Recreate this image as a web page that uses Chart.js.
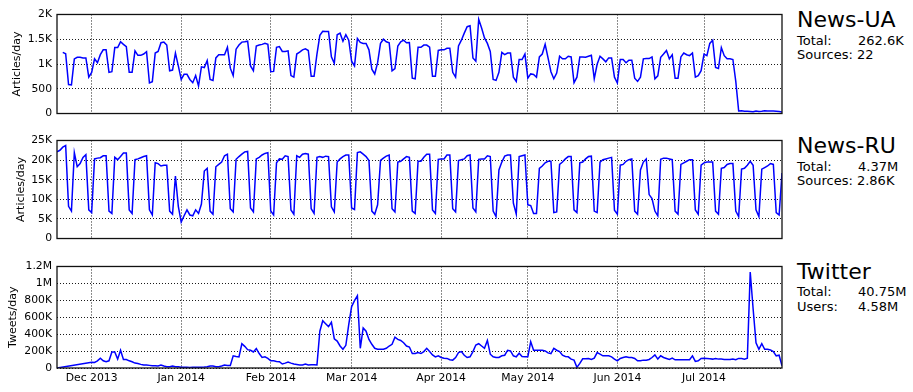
<!DOCTYPE html>
<html><head><meta charset="utf-8">
<script src="https://cdn.jsdelivr.net/npm/chart.js@4.4.1/dist/chart.umd.min.js"></script>
<style>
html,body{margin:0;padding:0;background:#fff;}
#wrap{position:relative;width:913px;height:392px;overflow:hidden;font-family:"DejaVu Sans",sans-serif;color:#000;background:#fff}
canvas{position:absolute;left:0}
.t{position:absolute;white-space:pre;}
.title{font-size:22px;line-height:22px;}
.info{font-size:13px;line-height:13px;}
</style></head><body>
<div id="wrap">
<canvas id="c0" width="790" height="122" style="top:3px"></canvas>
<canvas id="c1" width="790" height="121" style="top:129px"></canvas>
<canvas id="c2" width="790" height="137" style="top:255px"></canvas>

<div class="t title" style="left:797px;top:8.7px">News-UA</div>
<div class="t info" style="left:797px;top:34px">Total:</div>
<div class="t info" style="left:858px;top:34px">262.6K</div>
<div class="t info" style="left:797px;top:48.3px">Sources: 22</div>

<div class="t title" style="left:797px;top:134.7px">News-RU</div>
<div class="t info" style="left:797px;top:159.5px">Total:</div>
<div class="t info" style="left:858px;top:159.5px">4.37M</div>
<div class="t info" style="left:797px;top:174px">Sources: 2.86K</div>

<div class="t title" style="left:797px;top:260.5px">Twitter</div>
<div class="t info" style="left:797px;top:285px">Total:</div>
<div class="t info" style="left:858px;top:285px">40.75M</div>
<div class="t info" style="left:797px;top:299.7px">Users:</div>
<div class="t info" style="left:858px;top:299.7px">4.58M</div>
</div>
<script>
// Day 0 = 2013-11-19; one value per day
const lastDay = 251;
const monthTickDays = [12, 43, 74, 102, 133, 163, 194, 224];
const monthTickLabels = ['Dec 2013','Jan 2014','Feb 2014','Mar 2014','Apr 2014','May 2014','Jun 2014','Jul 2014'];

const uaTicks = [0, 500, 1000, 1500, 2000];
const uaTickLabels = ['0', '500', '1K', '1.5K', '2K'];
const ruTicks = [0, 5000, 10000, 15000, 20000, 25000];
const ruTickLabels = ['0', '5K', '10K', '15K', '20K', '25K'];
const twTicks = [0, 200000, 400000, 600000, 800000, 1000000, 1200000];
const twTickLabels = ['0', '200K', '400K', '600K', '800K', '1M', '1.2M'];

const newsUA = [
 null, null, 1234, 1208, 584, 578, 1104, 1136, 1136, 1123,
 1123, 734, 831, 1104, 1026, 1188, 1286, 1286, 831, 844,
 1331, 1331, 1448, 1396, 1351, 831, 831, 1266, 1175, 1175,
 1201, 1247, 617, 643, 1221, 1253, 1429, 1442, 1383, 864,
 877, 1221, 961, 688, 792, 792, 688, 623, 766, 558,
 942, 929, 1071, 688, 669, 1123, 1188, 1188, 1188, 1338,
 916, 766, 1299, 1383, 1442, 1448, 1461, 961, 864, 1364,
 1383, 1396, 1416, 1396, 844, 851, 1338, 1351, 1253, 1253,
 1266, 766, 734, 1201, 1240, 1286, 1305, 1273, 753, 753,
 1201, 1578, 1662, 1656, 1656, 1143, 1013, 1591, 1623, 1461,
 1591, 1480, 1058, 961, 1513, 1435, 1416, 1416, 1286, 896,
 799, 1026, 1416, 1500, 1448, 1429, 864, 909, 1364, 1448,
 1481, 1429, 1435, 714, 701, 1338, 1338, 1383, 1383, 1338,
 753, 753, 1273, 1286, 1286, 1318, 1318, 831, 734, 1364,
 1481, 1623, 1753, 1773, 1123, 1058, 1903, 1727, 1526, 1416,
 1253, 688, 669, 831, 1234, 1188, 1221, 1221, 734, 649,
 1091, 1091, 1201, 714, 800, 790, 734, 1143, 1201, 1396,
 1123, 844, 701, 818, 1156, 1104, 1104, 1156, 1143, 623,
 734, 1143, 1143, 1136, 1156, 1175, 701, 994, 1156, 1104,
 1045, 1123, 1123, 734, 617, 1091, 1091, 1026, 1078, 1078,
 714, 649, 734, 1104, 1110, 1110, 1143, 701, 760, 1136,
 1201, 1273, 1104, 1188, 714, 714, 1143, 1221, 1188, 1169,
 1221, 734, 766, 864, 1201, 1169, 1416, 1481, 929, 909,
 1331, 1169, 1104, 1104, 1091, 650, 50, 55, 45, 45,
 40, 35, 50, 40, 45, 55, 50, 50, 50, 45,
 40, 30
];

const newsRU = [
 22100, 22500, 23300, 23700, 8200, 7000, 21900, 18300, 19100, 20700,
 21400, 7300, 6600, 20300, 20500, 20600, 21100, 21100, 7000, 6400,
 20700, 20100, 20900, 21800, 21800, 7300, 6400, 20100, 20300, 20600,
 20900, 21100, 7300, 6000, 19300, 19100, 18500, 18700, 18700, 7000,
 6200, 15900, 8200, 4200, 5800, 7300, 6000, 5800, 7300, 6400,
 8800, 17200, 17900, 7000, 6200, 18300, 18900, 19500, 21100, 21500,
 7600, 6800, 20200, 20900, 21500, 22100, 22200, 7800, 6800, 20300,
 20700, 21300, 21700, 21900, 7000, 6000, 19300, 20300, 20200, 21100,
 20900, 7300, 6200, 21100, 20700, 21500, 21700, 21500, 7600, 6400,
 20700, 20900, 20700, 21000, 20900, 8100, 6800, 19500, 20300, 20900,
 21300, 21300, 7800, 7400, 21900, 22100, 21500, 20900, 19900, 7000,
 6200, 8600, 19900, 20500, 21000, 21300, 7600, 6800, 19500, 19700,
 20300, 20900, 20700, 7000, 6400, 19700, 19700, 20700, 21500, 21500,
 7300, 6400, 20200, 20300, 20300, 21300, 21300, 7600, 6800, 19900,
 20100, 20300, 21100, 21300, 7800, 6800, 20200, 20300, 20300, 21100,
 20900, 7000, 5600, 17500, 19500, 21000, 21300, 21300, 9000, 6200,
 20900, 21100, 21300, 8600, 8400, 6400, 6400, 17900, 18500, 19300,
 19700, 19700, 6600, 6800, 18900, 19500, 20300, 20900, 20900, 7300,
 6600, 19300, 19500, 20300, 20900, 21000, 7000, 6600, 19500, 20100,
 20300, 20500, 20700, 7200, 6200, 18700, 18900, 19700, 20100, 20300,
 7000, 6200, 17500, 19500, 20300, 11200, 10200, 7000, 5800, 20200,
 20500, 20500, 20300, 20100, 7000, 6200, 18900, 19300, 19700, 20100,
 20100, 7300, 6200, 18700, 19300, 19500, 19500, 19500, 7000, 6200,
 17900, 18100, 18900, 19100, 19100, 7000, 5600, 17700, 17900, 18700,
 19700, 18700, 7300, 5600, 17700, 18100, 18500, 19100, 18900, 6600,
 6000, 16700
];

const twitter = [
 0, null, null, null, null, null, null, null, null, null,
 null, null, 67000, 66000, 85000, 116000, 85000, 74000, 85000, 190000,
 190000, 105000, 210000, 101000, 101000, 85000, 74000, 58000, 54000, 43000,
 35000, 35000, 31000, 27000, 27000, 23000, 35000, 23000, 16000, 16000,
 23000, 16000, 16000, 8000, 9000, 8000, 7000, 8000, 9000, 8000,
 10000, 12000, 16000, 23000, 23000, 16000, 16000, 23000, 35000, 31000,
 31000, 144000, 136000, 132000, 287000, 256000, 217000, 210000, 190000, 229000,
 171000, 124000, 132000, 113000, 85000, 85000, 78000, 74000, 47000, 58000,
 70000, 58000, 47000, 41000, 35000, 35000, 47000, 35000, 39000, 39000,
 35000, 435000, 559000, 524000, 489000, 540000, 346000, 318000, 260000, 221000,
 268000, 513000, 726000, 796000, 854000, 233000, 474000, 435000, 338000, 280000,
 233000, 221000, 221000, 221000, 233000, 260000, 280000, 365000, 338000, 326000,
 299000, 260000, 248000, 171000, 171000, 182000, 171000, 194000, 233000, 194000,
 155000, 132000, 144000, 124000, 116000, 113000, 97000, 93000, 124000, 182000,
 194000, 151000, 124000, 132000, 194000, 272000, 287000, 260000, 233000, 326000,
 163000, 132000, 124000, 124000, 144000, 151000, 210000, 202000, 144000, 132000,
 175000, 136000, 132000, 132000, 311000, 210000, 210000, 210000, 210000, 202000,
 179000, 171000, 233000, 210000, 194000, 151000, 136000, 132000, 105000, 93000,
 8000, 54000, 109000, 109000, 113000, 101000, 116000, 182000, 163000, 144000,
 144000, 144000, 132000, 105000, 85000, 113000, 124000, 132000, 124000, 124000,
 113000, 85000, 85000, 93000, 93000, 101000, 124000, 155000, 105000, 144000,
 124000, 113000, 101000, 116000, 97000, 97000, 97000, 97000, 97000, 97000,
 144000, 78000, 85000, 113000, 116000, 113000, 109000, 105000, 113000, 105000,
 105000, 101000, 101000, 101000, 105000, 97000, 113000, 113000, 105000, 116000,
 1134000, 700000, 299000, 221000, 287000, 221000, 221000, 214000, 194000, 144000,
 151000, 27000
];

const FAMILY = '"DejaVu Sans", sans-serif';
const frame = {
  id: 'frame',
  afterDraw(c) {
    const {ctx, chartArea: a} = c;
    ctx.save();
    ctx.strokeStyle = '#111';
    ctx.lineWidth = 1.3;
    ctx.strokeRect(a.left, a.top, a.right - a.left, a.bottom - a.top);
    ctx.restore();
  }
};

function panel(id, values, yTicks, yLabels, yTitle, titlePad, showX, xHeight, padBottom) {
  return new Chart(document.getElementById(id), {
    type: 'line',
    data: {
      datasets: [{
        data: values.map((v, i) => ({x: i, y: v})),
        borderColor: '#0000ff',
        borderWidth: 1.5,
        pointRadius: 0,
        tension: 0,
        fill: false,
        spanGaps: true
      }]
    },
    options: {
      responsive: false,
      animation: false,
      devicePixelRatio: 1,
      layout: {padding: {top: 10, right: 8, bottom: padBottom, left: 0}},
      plugins: {legend: {display: false}, tooltip: {enabled: false}},
      scales: {
        x: {
          type: 'linear', min: 0, max: lastDay,
          afterBuildTicks: s => { s.ticks = monthTickDays.map(v => ({value: v})); },
          ticks: {
            display: showX, autoSkip: false, maxRotation: 0, padding: 4,
            font: {family: FAMILY, size: 10.8}, color: '#000',
            callback: v => monthTickLabels[monthTickDays.indexOf(v)]
          },
          grid: {color: '#000', lineWidth: 0.9, drawTicks: false},
          border: {display: false, dash: [1, 2]},
          afterFit: s => { s.height = xHeight; }
        },
        y: {
          min: yTicks[0], max: yTicks[yTicks.length - 1],
          afterBuildTicks: s => { s.ticks = yTicks.map(v => ({value: v})); },
          ticks: {
            padding: 5, font: {family: FAMILY, size: 10.8}, color: '#000',
            callback: v => yLabels[yTicks.indexOf(v)]
          },
          grid: {color: '#000', lineWidth: 0.9, drawTicks: false},
          border: {display: false, dash: [1, 2]},
          title: {display: true, text: yTitle, color: '#000',
                  font: {family: FAMILY, size: 11}, padding: {top: titlePad, bottom: 0}},
          afterFit: s => { s.width = 57; }
        }
      }
    },
    plugins: [frame]
  });
}

panel('c0', newsUA, uaTicks, uaTickLabels, 'Articles/day', 11, false, 0, 8);
panel('c1', newsRU, ruTicks, ruTickLabels, 'Articles/day', 14.4, false, 0, 8);
panel('c2', twitter, twTicks, twTickLabels, 'Tweets/day', 6.7, true, 22, 2);
</script>
</body></html>
